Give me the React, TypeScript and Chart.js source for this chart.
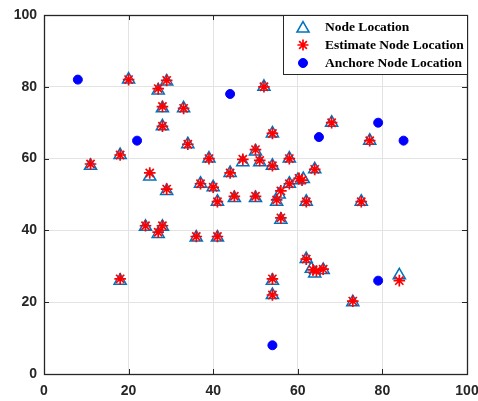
import React, { useEffect, useRef } from "react";
import { Chart, registerables } from "chart.js";
import { drawPoint } from "chart.js/helpers";

Chart.register(...registerables);

// True node positions
const nodeX = [20, 27, 29, 28, 33, 28, 34, 11, 18, 25, 29, 39, 44, 37, 40, 41, 45, 50, 47, 50, 52, 68, 77, 54, 51, 54, 58, 64, 60, 61.3, 58, 55.6, 55, 62, 75, 56, 41, 36, 24, 28, 27, 18, 54, 54, 62, 64, 63.2, 66, 73, 84];
const nodeY = [82, 79, 81.5, 74, 74, 69, 64, 58, 61, 55, 51, 60, 56, 53, 52, 48, 49, 49, 59, 62, 80, 70, 65, 67, 59, 58, 60, 57, 54, 54.3, 53, 50, 48, 48, 48, 43, 38, 38, 41, 41, 39, 26, 26, 22, 32, 28, 29.3, 29, 20, 27.5];
// Estimated node positions
const estX = [20, 27, 29, 28, 33, 28, 34, 11, 18, 25, 29, 39, 44, 37, 40, 41, 45, 50, 47, 50, 52, 68, 77, 54, 51, 54, 58, 64, 60.3, 61, 58, 56, 55, 62, 75, 56, 41, 36, 24, 28, 27, 18, 54, 54, 62, 63.6, 64.4, 66, 73, 84];
const estY = [82, 79.5, 81.8, 74.5, 74, 69, 64, 58.5, 61, 56, 51.5, 60, 56, 53, 52, 48, 49.5, 49.5, 59.8, 62.5, 80, 70, 65, 67, 59.5, 58, 60, 57, 54.5, 54, 53, 51, 48.5, 48, 48, 43.5, 38.3, 38.3, 41.3, 41.3, 39.5, 26.5, 26.5, 22, 32, 29, 28.7, 29.2, 20.3, 26];
// Anchor nodes
const anchorX = [8, 22, 44, 65, 79, 85, 79, 54];
const anchorY = [82, 65, 78, 66, 70, 65, 26, 8];

const axisTicks = [0, 20, 40, 60, 80, 100];
const legendLabels = ["Node Location", "Estimate Node Location", "Anchore Node Location"];

const NODE_COLOR = "#0072BD";
const EST_COLOR = "#FF0000";
const ANCHOR_COLOR = "#0000FF";
const AXIS_COLOR = "#262626";

const toPoints = (xs: number[], ys: number[]) => xs.map((x, i) => ({ x, y: ys[i] }));

const framePlugin = {
  id: "frameAndLegend",
  afterDraw(chart: any) {
    const { ctx, chartArea } = chart;
    const { left, right, top, bottom } = chartArea;
    const xs = chart.scales.x;
    const ys = chart.scales.y;
    ctx.save();
    // inward ticks
    ctx.strokeStyle = AXIS_COLOR;
    ctx.lineWidth = 1;
    ctx.beginPath();
    axisTicks.forEach((t) => {
      const px = Math.round(xs.getPixelForValue(t)) + 0.5;
      ctx.moveTo(px, bottom);
      ctx.lineTo(px, bottom - 5);
      ctx.moveTo(px, top);
      ctx.lineTo(px, top + 5);
      const py = Math.round(ys.getPixelForValue(t)) + 0.5;
      ctx.moveTo(left, py);
      ctx.lineTo(left + 5, py);
      ctx.moveTo(right, py);
      ctx.lineTo(right - 5, py);
    });
    ctx.stroke();
    // frame
    ctx.lineWidth = 1.3;
    ctx.strokeRect(Math.round(left) + 0.5, Math.round(top) + 0.5, Math.round(right - left), Math.round(bottom - top));

    // legend box
    const bw = 184;
    const bh = 59;
    const bx = Math.round(right) - bw;
    const by = Math.round(top);
    ctx.fillStyle = "#FFFFFF";
    ctx.fillRect(bx, by, bw, bh);
    ctx.strokeStyle = AXIS_COLOR;
    ctx.lineWidth = 1;
    ctx.strokeRect(bx + 0.5, by + 0.5, bw, bh);

    const styles = [
      { pointStyle: "triangle", radius: 7, borderWidth: 1.5, stroke: NODE_COLOR, fill: "rgba(0,0,0,0)" },
      { pointStyle: "star", radius: 5.5, borderWidth: 1.7, stroke: EST_COLOR, fill: "rgba(0,0,0,0)" },
      { pointStyle: "circle", radius: 4.5, borderWidth: 1, stroke: ANCHOR_COLOR, fill: ANCHOR_COLOR },
    ];
    ctx.font = 'bold 13.5px "Liberation Serif", "Times New Roman", serif';
    ctx.textBaseline = "middle";
    ctx.textAlign = "left";
    legendLabels.forEach((label, i) => {
      const cy = by + 12 + i * 18;
      const s = styles[i];
      ctx.strokeStyle = s.stroke;
      ctx.fillStyle = s.fill;
      ctx.lineWidth = s.borderWidth;
      drawPoint(ctx, { pointStyle: s.pointStyle, radius: s.radius, rotation: 0, borderWidth: s.borderWidth } as any, bx + 20, cy + (i === 0 ? 1.5 : 0));
      ctx.fillStyle = "#000000";
      ctx.fillText(label, bx + 42, cy + 1);
    });
    ctx.restore();
  },
};

export default function App() {
  const ref = useRef<HTMLCanvasElement>(null);
  useEffect(() => {
    const canvas = ref.current;
    if (!canvas) return;
    const tickFont = { family: '"Liberation Sans", Arial, Helvetica, sans-serif', size: 14, weight: "bold" as const };
    const chart = new Chart(canvas, {
      type: "scatter",
      data: {
        datasets: [
          {
            label: legendLabels[0],
            data: toPoints(nodeX, nodeY),
            pointStyle: "triangle",
            pointRadius: 7,
            borderColor: NODE_COLOR,
            backgroundColor: "rgba(0,0,0,0)",
            borderWidth: 1.5,
            order: 2,
          },
          {
            label: legendLabels[1],
            data: toPoints(estX, estY),
            pointStyle: "star",
            pointRadius: 5.8,
            borderColor: EST_COLOR,
            backgroundColor: "rgba(0,0,0,0)",
            borderWidth: 1.7,
            order: 1,
          },
          {
            label: legendLabels[2],
            data: toPoints(anchorX, anchorY),
            pointStyle: "circle",
            pointRadius: 4.5,
            borderColor: ANCHOR_COLOR,
            backgroundColor: ANCHOR_COLOR,
            borderWidth: 1,
            order: 3,
          },
        ],
      },
      options: {
        responsive: false,
        animation: false,
        devicePixelRatio: 1,
        layout: { padding: { top: 15, right: 11, left: 0, bottom: 0 } },
        plugins: { legend: { display: false }, tooltip: { enabled: false } },
        scales: {
          x: {
            type: "linear",
            min: 0,
            max: 100,
            afterBuildTicks: (s: any) => {
              s.ticks = axisTicks.map((v) => ({ value: v }));
            },
            afterFit: (s: any) => {
              s.height = 27;
              s.paddingLeft = 0;
              s.paddingRight = 0;
            },
            ticks: { color: AXIS_COLOR, font: tickFont, padding: 9, maxRotation: 0 },
            grid: { color: "#E3E3E3", drawTicks: false, lineWidth: 1 },
            border: { display: false },
          },
          y: {
            type: "linear",
            min: 0,
            max: 100,
            afterBuildTicks: (s: any) => {
              s.ticks = axisTicks.map((v) => ({ value: v }));
            },
            afterFit: (s: any) => {
              s.width = 44;
              s.paddingTop = 0;
              s.paddingBottom = 0;
            },
            ticks: { color: AXIS_COLOR, font: tickFont, padding: 7 },
            grid: { color: "#E3E3E3", drawTicks: false, lineWidth: 1 },
            border: { display: false },
          },
        },
      },
      plugins: [framePlugin],
    });
    return () => chart.destroy();
  }, []);
  return (
    <div style={{ position: "absolute", left: 0, top: 0, width: 478, height: 401, background: "#FFFFFF" }}>
      <canvas ref={ref} width={478} height={401} style={{ display: "block" }} />
    </div>
  );
}
